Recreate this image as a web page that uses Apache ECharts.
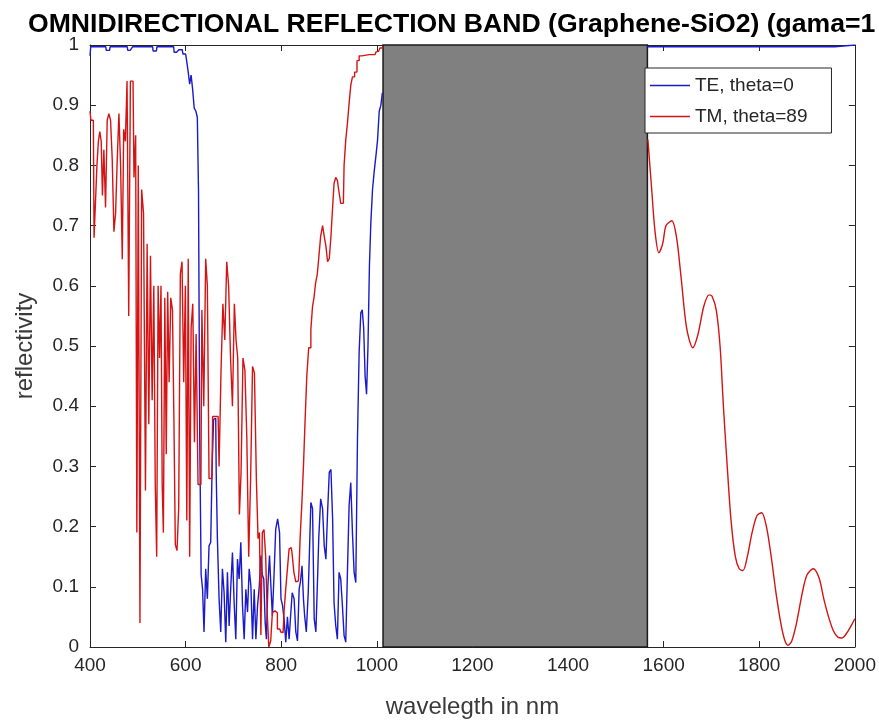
<!DOCTYPE html>
<html lang="en">

<head>
    <meta charset="UTF-8">
    <title>Omnidirectional reflection band</title>
    <script src="https://cdn.jsdelivr.net/npm/echarts@6/dist/echarts.min.js"></script>
    <style>
        html, body { margin: 0; padding: 0; background: #fff; }
        #chart { width: 879px; height: 724px; }
    </style>
</head>

<body>
    <div id="chart"></div>

<script type="text/javascript">
    /*---------------data-----------------*/
    // TE, theta=0 : short wavelength part (left of the gray band)
    var teX = [400, 403, 433, 435, 441, 443, 478, 480, 488, 490, 531, 533, 539, 541, 575, 577, 585, 587, 593, 596,
        600, 604, 607, 610, 613, 616, 620, 623, 626, 628, 631, 634, 637, 640, 644, 647, 651, 654, 657, 660,
        663, 665, 668, 672, 675, 679, 682, 686, 689, 693, 696, 700, 703, 707, 710, 714, 717, 721, 724, 728,
        731, 735, 738, 742, 745, 749, 752, 756, 759, 762, 765, 768, 770, 774, 777, 780, 783, 787, 790, 795,
        798, 801, 804, 808, 811, 815, 818, 821, 825, 829, 832, 836, 839, 842, 845, 848, 850, 855, 858, 860,
        864, 867, 871, 874, 877, 880, 885, 888, 892, 895, 899, 902, 906, 909, 912, 916, 919, 923, 926, 930,
        933, 937, 940, 944, 947, 951, 954, 958, 961, 965, 968, 971, 974, 977, 980, 983, 986, 989, 993, 996,
        1000, 1003, 1007, 1010, 1013];
    var teY = [0.982, 0.997, 0.997, 0.991, 0.991, 0.997, 0.997, 0.991, 0.991, 0.997, 0.997, 0.99, 0.99, 0.997, 0.997, 0.988, 0.988, 0.992, 0.992, 0.985,
        0.985, 0.975, 0.955, 0.935, 0.95, 0.928, 0.895, 0.89, 0.88, 0.757, 0.35, 0.12, 0.096, 0.025, 0.13, 0.08, 0.168, 0.174, 0.3, 0.378,
        0.38, 0.29, 0.18, 0.08, 0.025, 0.13, 0.09, 0.008, 0.124, 0.035, 0.1, 0.157, 0.074, 0.013, 0.146, 0.113, 0.174, 0.069, 0.013, 0.096,
        0.058, 0.13, 0.102, 0.013, 0.096, 0.013, 0.069, 0.1, 0.152, 0.12, 0.113, 0.04, 0.013, 0.1, 0.152, 0.1, 0.052, 0.12, 0.196, 0.213,
        0.19, 0.08, 0.07, 0.047, 0.008, 0.05, 0.013, 0.05, 0.09, 0.08, 0.025, 0.01, 0.096, 0.11, 0.135, 0.08, 0.052, 0.025, 0.09, 0.157,
        0.24, 0.23, 0.047, 0.025, 0.1, 0.18, 0.246, 0.23, 0.168, 0.146, 0.224, 0.29, 0.295, 0.213, 0.074, 0.036, 0.013, 0.124, 0.113, 0.069,
        0.019, 0.008, 0.124, 0.235, 0.273, 0.19, 0.124, 0.107, 0.345, 0.49, 0.555, 0.56, 0.53, 0.45, 0.42, 0.5, 0.633, 0.705, 0.76, 0.79,
        0.815, 0.842, 0.89, 0.9, 0.92];
    // TE, theta=0 : long wavelength part (right of the gray band)
    var teX2 = [1566, 1700, 1900, 1958, 1960, 2000];
    var teY2 = [0.997, 0.997, 0.997, 0.997, 1.0, 1.0];

    // TM, theta=89 : short wavelength part
    var tmX = [400, 404, 407, 410, 413, 416, 419, 422, 425, 427, 431, 434, 438, 441, 445, 448, 452, 455, 459, 462,
        466, 469, 472, 476, 479, 483, 486, 490, 494, 497, 499, 503, 506, 510, 514, 518, 521, 525, 528, 532,
        535, 538, 541, 544, 547, 550, 552, 555, 558, 561, 564, 567, 571, 574, 577, 580, 584, 587, 591, 594,
        598, 601, 604, 607, 610, 613, 617, 620, 624, 628, 632, 636, 640, 644, 647, 651, 655, 658, 668, 672,
        676, 680, 684, 688, 692, 696, 700, 704, 707, 711, 714, 718, 722, 726, 730, 734, 738, 742, 746, 750,
        753, 756, 759, 762, 766, 769, 772, 776, 780, 783, 787, 790, 794, 797, 801, 804, 808, 811, 815, 818,
        821, 824, 829, 832, 836, 838, 841, 845, 848, 852, 855, 860, 864, 867, 870, 874, 877, 880, 885, 888,
        892, 895, 899, 902, 906, 909, 912, 916, 919, 923, 926, 930, 933, 937, 940, 944, 947, 951, 956, 961,
        965, 972, 996, 1000, 1004, 1009, 1013];
    var tmY = [0.89, 0.875, 0.875, 0.68, 0.74, 0.8, 0.84, 0.856, 0.84, 0.75, 0.826, 0.73, 0.875, 0.886, 0.875, 0.81, 0.69, 0.72, 0.81, 0.886,
        0.8, 0.644, 0.86, 0.84, 0.94, 0.55, 0.94, 0.94, 0.78, 0.85, 0.19, 0.8, 0.04, 0.76, 0.72, 0.26, 0.67, 0.37, 0.65, 0.41,
        0.6, 0.27, 0.15, 0.6, 0.48, 0.6, 0.27, 0.19, 0.58, 0.32, 0.59, 0.44, 0.58, 0.56, 0.38, 0.17, 0.16, 0.23, 0.62, 0.64,
        0.44, 0.6, 0.21, 0.645, 0.15, 0.53, 0.57, 0.34, 0.52, 0.27, 0.27, 0.56, 0.4, 0.645, 0.6, 0.28, 0.28, 0.383, 0.383, 0.3,
        0.455, 0.57, 0.51, 0.64, 0.6, 0.48, 0.4, 0.57, 0.51, 0.48, 0.22, 0.29, 0.48, 0.46, 0.35, 0.15, 0.28, 0.466, 0.455, 0.28,
        0.18, 0.19, 0.02, 0.19, 0.195, 0.15, 0.06, 0.0, 0.01, 0.057, 0.06, 0.057, 0.03, 0.03, 0.025, 0.024, 0.06, 0.097, 0.13, 0.163,
        0.165, 0.157, 0.124, 0.108, 0.11, 0.124, 0.18, 0.235, 0.3, 0.378, 0.45, 0.497, 0.527, 0.566, 0.58, 0.605, 0.62, 0.646, 0.682, 0.7,
        0.682, 0.666, 0.64, 0.645, 0.682, 0.73, 0.77, 0.78, 0.775, 0.755, 0.737, 0.737, 0.8, 0.842, 0.87, 0.903, 0.933, 0.947, 0.955, 0.974,
        0.982, 0.984, 0.984, 0.988, 0.99, 0.995, 0.998];
    // TM, theta=89 : long wavelength part
    var tmX2 = [1567, 1575, 1582, 1590, 1598, 1605, 1617, 1627, 1637, 1648, 1661, 1672, 1684, 1695, 1701, 1710, 1718, 1725, 1733, 1741,
        1750, 1758, 1766, 1775, 1785, 1795, 1805, 1815, 1825, 1835, 1845, 1853, 1860, 1868, 1878, 1890, 1900, 1913, 1925, 1935,
        1945, 1955, 1965, 1973, 1982, 1992, 2000];
    var tmY2 = [0.843, 0.76, 0.69, 0.655, 0.67, 0.7, 0.708, 0.68, 0.61, 0.53, 0.497, 0.52, 0.566, 0.585, 0.583, 0.56, 0.5, 0.4, 0.3, 0.21,
        0.15, 0.13, 0.127, 0.15, 0.19, 0.218, 0.223, 0.2, 0.15, 0.09, 0.04, 0.012, 0.003, 0.01, 0.04, 0.09, 0.12, 0.13, 0.115, 0.08,
        0.05, 0.027, 0.016, 0.015, 0.022, 0.035, 0.047];

    // gray band (omnidirectional gap)
    var bandStart = 1013;
    var bandEnd = 1566;

    /*---------------build-----------------*/
    function zip(xs, ys) {
        var out = [];
        for (var i = 0, len = xs.length; i < len; i++) {
            out.push([xs[i], ys[i]]);
        }
        return out;
    }

    var teColor = '#1a1ac8';
    var tmColor = '#d41414';
    var axisColor = '#262626';
    var font = 'Liberation Sans, Arial, sans-serif';

    function tickAxis(pos, isX) {
        var a = {
            type: 'value',
            position: pos,
            axisLine: { show: true, onZero: false, lineStyle: { color: axisColor, width: 1 } },
            axisTick: { show: true, inside: true, length: 6, lineStyle: { color: axisColor } },
            axisLabel: { show: false },
            splitLine: { show: false }
        };
        if (isX) { a.min = 400; a.max = 2000; a.interval = 200; }
        else { a.min = 0; a.max = 1; a.interval = 0.1; }
        return a;
    }

    var xBottom = tickAxis('bottom', true);
    xBottom.name = 'wavelegth in nm';
    xBottom.nameLocation = 'middle';
    xBottom.nameGap = 48;
    xBottom.nameTextStyle = { fontFamily: font, fontSize: 24, color: '#3a3a3a' };
    xBottom.axisLabel = { show: true, fontFamily: font, fontSize: 19, color: axisColor, margin: 9,
        formatter: function (v) { return String(v); } };

    var yLeft = tickAxis('left', false);
    yLeft.name = 'reflectivity';
    yLeft.nameLocation = 'middle';
    yLeft.nameGap = 53;
    yLeft.nameTextStyle = { fontFamily: font, fontSize: 24, color: '#3a3a3a' };
    yLeft.axisLabel = { show: true, fontFamily: font, fontSize: 19, color: axisColor, margin: 11 };

    var myChart = echarts.init(document.getElementById('chart'), null, { renderer: 'canvas' });
    var option = {
        animation: false,
        backgroundColor: '#fff',
        title: {
            text: 'OMNIDIRECTIONAL REFLECTION BAND (Graphene-SiO2) (gama=1',
            left: 23,
            top: 6,
            textStyle: { fontFamily: font, fontSize: 26.6, fontWeight: 'bold', color: '#000' }
        },
        legend: {
            orient: 'vertical',
            left: 645,
            top: 68,
            data: ['TE, theta=0', 'TM, theta=89'],
            icon: 'rect',
            itemWidth: 40,
            itemHeight: 1.5,
            itemGap: 10,
            padding: [7, 24, 6, 5],
            backgroundColor: '#fff',
            borderColor: axisColor,
            borderWidth: 1,
            borderRadius: 0,
            textStyle: { fontFamily: font, fontSize: 19, lineHeight: 21, color: axisColor }
        },
        grid: { left: 90, right: 24, top: 45, bottom: 76 },
        xAxis: [xBottom, tickAxis('top', true)],
        yAxis: [yLeft, tickAxis('right', false)],
        series: [
            {
                name: 'TE, theta=0',
                type: 'line',
                data: zip(teX, teY),
                step: 'middle',
                showSymbol: false,
                color: teColor,
                lineStyle: { color: teColor, width: 1.4 },
                z: 2
            },
            {
                name: 'TE, theta=0',
                type: 'line',
                data: zip(teX2, teY2),
                showSymbol: false,
                color: teColor,
                lineStyle: { color: teColor, width: 1.6 },
                z: 2
            },
            {
                name: 'TM, theta=89',
                type: 'line',
                data: zip(tmX, tmY),
                step: 'middle',
                showSymbol: false,
                color: tmColor,
                lineStyle: { color: tmColor, width: 1.4 },
                z: 3
            },
            {
                name: 'TM, theta=89',
                type: 'line',
                data: zip(tmX2, tmY2),
                smooth: 0.3,
                showSymbol: false,
                color: tmColor,
                lineStyle: { color: tmColor, width: 1.4 },
                z: 3
            },
            {
                name: 'band',
                type: 'line',
                data: [],
                silent: true,
                z: 4,
                markArea: {
                    silent: true,
                    itemStyle: { color: '#808080', borderColor: '#1a1a1a', borderWidth: 1.5 },
                    data: [[{ xAxis: bandStart, yAxis: 0 }, { xAxis: bandEnd, yAxis: 1 }]]
                }
            }
        ]
    };
    myChart.setOption(option);
</script>
</body>

</html>
